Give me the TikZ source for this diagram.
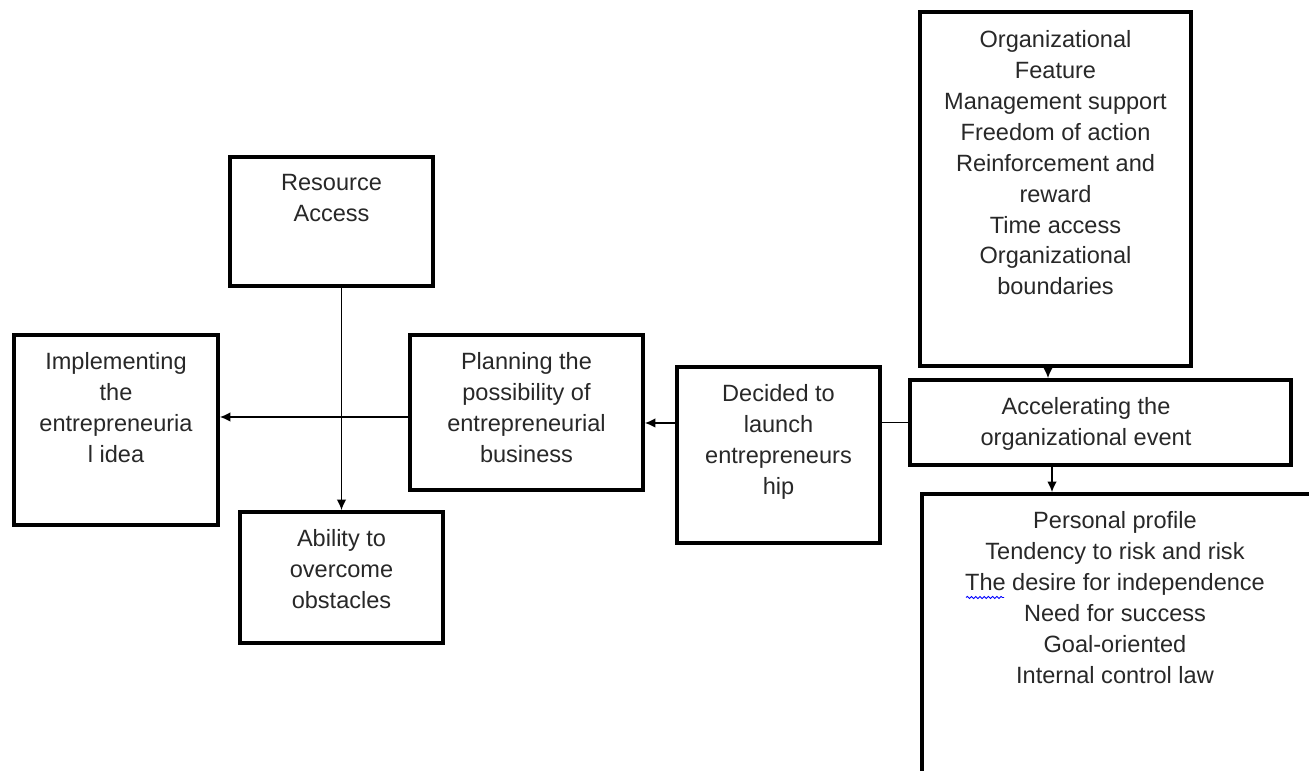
\documentclass[tikz,border=0pt]{standalone}
\usepackage{fontspec}
\setmainfont{Liberation Sans}
\usepackage{tikz}
\usetikzlibrary{arrows.meta,shapes,positioning,decorations.pathmorphing}
\usepackage{xcolor}
\definecolor{txtgray}{RGB}{40,40,40}
\tikzstyle{block} = [rectangle, draw=black, line width=2.2pt, fill=white, inner sep=0pt]
\tikzstyle{blocktext} = [align=center, inner sep=0pt, text=txtgray, font=\fontsize{13.4pt}{17.6pt}\selectfont]
\tikzstyle{arrow} = [line width=0.8pt,-{Latex[length=6pt,width=5.5pt]}]

\begin{document}
\begin{tikzpicture}[node distance=0.38cm]
\useasboundingbox (0,0) rectangle (26.18,15.42);
\clip (0,0) rectangle (26.18,15.42);
\fill[white] (0,0) rectangle (26.18,15.42);
% boxes
\node (res) [block, minimum width=4.06cm, minimum height=2.58cm] at (6.63,10.99) {};
\node (impl) [block, minimum width=4.08cm, minimum height=3.80cm] at (2.32,6.82) {};
\node (abil) [block, minimum width=4.06cm, minimum height=2.62cm] at (6.83,3.87) {};
\node (plan) [block, minimum width=4.66cm, minimum height=3.10cm] at (10.53,7.17) {};
\node (dec) [block, minimum width=4.06cm, minimum height=3.52cm] at (15.57,6.32) {};
\node (org) [block, minimum width=5.42cm, minimum height=7.08cm] at (21.11,11.64) {};
\node (acc) [block, minimum width=7.62cm, minimum height=1.70cm] at (22.01,6.97) {};
\node (pers) [block, minimum width=8.16cm, minimum height=6.12cm] at (22.52,2.48) {};
% texts
\node (restext) [blocktext, below=of res.north] {Resource\\Access};
\node (impltext) [blocktext, below=of impl.north] {Implementing\\the\\entrepreneuria\\l idea};
\node (abiltext) [blocktext, below=of abil.north] {Ability to\\overcome\\obstacles};
\node (plantext) [blocktext, below=of plan.north] {Planning the\\possibility of\\entrepreneurial\\business};
\node (dectext) [blocktext, below=of dec.north] {Decided to\\launch\\entrepreneurs\\hip};
\node (orgtext) [blocktext, below=0.4cm of org.north] {Organizational\\Feature\\Management support\\Freedom of action\\Reinforcement and\\reward\\Time access\\Organizational\\boundaries};
\node (acctext) [blocktext, below=of acc.north, xshift=-0.29cm] {Accelerating the\\organizational event};
\node (perstext) [blocktext, below=of pers.north, xshift=-0.22cm] {Personal profile\\Tendency to risk and risk\\The desire for independence\\Need for success\\Goal-oriented\\Internal control law};
\draw[blue, line width=0.5pt, decorate, decoration={snake, amplitude=0.6pt, segment length=2.4pt}] (19.32,3.47) -- (20.08,3.47);
% connectors
\draw[arrow] (abil.north |- res.south) -- (abil.north);
\draw[arrow] ([yshift=-0.09cm]plan.west) -- ([yshift=-0.09cm]plan.west -| impl.east);
\draw[arrow] ([yshift=0.64cm]dec.west) -- ([yshift=0.64cm]dec.west -| plan.east);
\draw[line width=0.8pt] (acc.west) -- (acc.west -| dec.east);
\draw[arrow] ([xshift=-0.15cm]org.south) -- ([xshift=-0.15cm]org.south |- acc.north);
\draw[arrow] ([xshift=-0.97cm]acc.south) -- ([xshift=-0.97cm]acc.south |- pers.north);
\end{tikzpicture}
\end{document}
